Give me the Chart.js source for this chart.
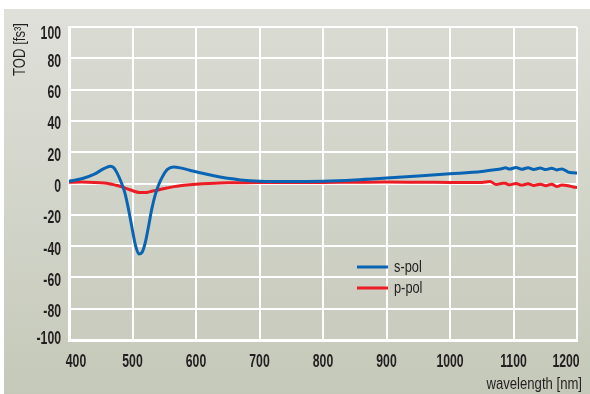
<!DOCTYPE html>
<html>
<head>
<meta charset="utf-8">
<script src="https://cdn.jsdelivr.net/npm/chart.js@4/dist/chart.umd.min.js"></script>
<style>
html,body{margin:0;padding:0;background:#ffffff;}
#wrap{position:absolute;left:0;top:0;width:590px;height:394px;}
</style>
</head>
<body>
<div id="wrap"><canvas id="c" width="590" height="394"></canvas></div>
<script>
const wavelengths = [400,420,440,455,465,470,476,482,488,494,500,505,510,515,520,525,530,536,542,548,555,565,575,590,610,630,650,670,700,750,800,850,900,950,1000,1050,1063,1073,1083,1087,1094,1104,1113,1123,1132,1142,1151,1160,1168,1176,1186,1194,1200];
const sPol = [1.5,3,6,9.5,11,10.3,6.5,1,-6,-17,-30,-40,-45,-44,-38,-28,-17,-7,0,5,9,10.5,10,8.5,6.5,4.8,3.3,2.3,1.5,1.2,1.5,2.3,3.5,4.8,6.2,7.7,8.4,8.9,9.6,10.1,9.2,10.3,9.1,10.1,9.0,9.9,8.9,9.8,8.7,9.3,7.3,6.8,6.7];
const pPol = [0.8,0.9,0.7,0.3,-0.3,-0.7,-1.3,-2.0,-2.8,-3.7,-4.6,-5.3,-5.7,-5.8,-5.8,-5.5,-5.0,-4.5,-4.0,-3.4,-2.8,-2.0,-1.4,-0.8,-0.2,0.2,0.4,0.5,0.6,0.6,0.7,0.8,0.9,0.8,0.7,0.6,1.2,-0.7,0.2,0.1,-0.8,0.0,-1.0,-0.2,-1.2,-0.4,-1.5,-0.4,-1.9,-1.0,-1.4,-2.2,-2.6];
const seriesLabels = ['s-pol','p-pol'];
const xTicks = [400,500,600,700,800,900,1000,1100,1200];
const yTicks = [-100,-80,-60,-40,-20,0,20,40,60,80,100];
const xTitle = 'wavelength [nm]';
const yTitle = 'TOD [fs³]';

const FAM = "'Liberation Sans','Arial',sans-serif";
const TXT = '#231f20';

function drawText(ctx, text, x, y, align, sx, font) {
  ctx.save();
  ctx.translate(x, y);
  ctx.scale(sx, 1);
  ctx.font = font;
  ctx.fillStyle = TXT;
  ctx.textAlign = align;
  ctx.textBaseline = 'alphabetic';
  ctx.fillText(text, 0, 0);
  ctx.restore();
}

const bgPlugin = {
  id: 'bg',
  beforeDraw(chart) {
    const ctx = chart.ctx;
    ctx.save();
    ctx.fillStyle = '#ffffff';
    ctx.fillRect(0,0,chart.width,chart.height);
    let g = ctx.createLinearGradient(0,9,0,394);
    g.addColorStop(0,'#dfe0da');
    g.addColorStop(1,'#c5c9b9');
    ctx.fillStyle = g;
    ctx.fillRect(4,9,chart.width-4,chart.height-9);
    const a = chart.chartArea;
    g = ctx.createLinearGradient(0,a.top,0,a.bottom);
    g.addColorStop(0,'#d9dbd3');
    g.addColorStop(1,'#c8cbbd');
    ctx.fillStyle = g;
    ctx.fillRect(a.left,a.top,a.right-a.left,a.bottom-a.top);
    ctx.restore();
  }
};

const textPlugin = {
  id: 'texts',
  afterDraw(chart) {
    const ctx = chart.ctx;
    const xs = chart.scales.x, ys = chart.scales.y;
    const a = chart.chartArea;
    const tickFont = 'bold 18px ' + FAM;
    // y tick labels
    yTicks.forEach(v => {
      let cy = ys.getPixelForValue(v) + 2;
      cy = Math.max(a.top + 5, Math.min(a.bottom - 3, cy));
      drawText(ctx, String(v), a.left - 8, cy + 6.5, 'right', 0.68, tickFont);
    });
    // x tick labels
    xTicks.forEach((v, i) => {
      let cx = xs.getPixelForValue(v);
      if (i === 0) cx += 7;
      if (i === xTicks.length - 1) cx -= 11;
      drawText(ctx, String(v), cx, 366.5, 'center', 0.68, tickFont);
    });
    // axis titles
    drawText(ctx, xTitle, 582, 388.5, 'right', 0.82, '16px ' + FAM);
    ctx.save();
    ctx.translate(25, 23);
    ctx.rotate(-Math.PI/2);
    drawText(ctx, yTitle, 0, 0, 'right', 0.82, '16px ' + FAM);
    ctx.restore();
    // legend
    chart.data.datasets.forEach((ds, i) => {
      const y = 267 + i*21;
      ctx.save();
      ctx.strokeStyle = ds.borderColor;
      ctx.lineWidth = 3;
      ctx.beginPath();
      ctx.moveTo(357, y);
      ctx.lineTo(388, y);
      ctx.stroke();
      ctx.restore();
      drawText(ctx, ds.label, 394, y + 5, 'left', 0.8, '16px ' + FAM);
    });
  }
};

new Chart(document.getElementById('c'), {
  type: 'line',
  data: {
    datasets: [
      { label: seriesLabels[0], data: wavelengths.map((w,i)=>({x:w,y:sPol[i]})), borderColor:'#0a64b4', borderWidth:3, pointRadius:0, cubicInterpolationMode:'monotone' },
      { label: seriesLabels[1], data: wavelengths.map((w,i)=>({x:w,y:pPol[i]})), borderColor:'#ec1c24', borderWidth:3, pointRadius:0, cubicInterpolationMode:'monotone' }
    ]
  },
  options: {
    responsive: false,
    animation: false,
    layout: { padding: { left: 0, top: 27, right: 13, bottom: 0 } },
    plugins: { legend: { display: false }, tooltip: { enabled: false } },
    scales: {
      x: {
        type: 'linear', min: 400, max: 1200,
        afterFit(s){ s.height = 54; },
        afterBuildTicks(s){ s.ticks = xTicks.map(v=>({value:v})); },
        grid: { color:'#ffffff', lineWidth:2, drawTicks:false },
        border: { color:'#ffffff', width:3 },
        ticks: { display:false }
      },
      y: {
        type: 'linear', min: -100, max: 100,
        afterFit(s){ s.width = 69; },
        afterBuildTicks(s){ s.ticks = yTicks.map(v=>({value:v})); },
        grid: { color:'#ffffff', lineWidth:2, drawTicks:false },
        border: { color:'#ffffff', width:3 },
        ticks: { display:false }
      }
    }
  },
  plugins: [bgPlugin, textPlugin]
});
</script>
</body>
</html>
